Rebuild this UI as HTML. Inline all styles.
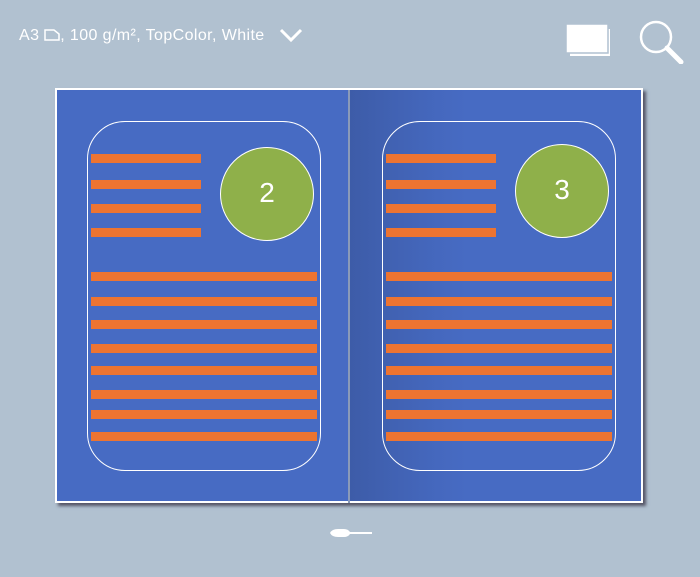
<!DOCTYPE html><html><head><style>
body{margin:0;width:700px;height:577px;background:#b1c1d0;overflow:hidden;position:relative;font-family:"Liberation Sans",sans-serif}
.a{position:absolute}
.bar{position:absolute;height:9px;background:#ed7431}
</style></head><body>
<div class="a" style="left:19px;top:27px;color:#fff;font-size:16px;letter-spacing:0.4px;white-space:nowrap">A3 <svg width="16" height="13" style="vertical-align:-1px"><path d="M1 2h9l5 4v6H1z" fill="none" stroke="#fff" stroke-width="1.5"/></svg>, 100 g/m², TopColor, White</div>
<svg class="a" style="left:278px;top:27px" width="26" height="16"><path d="M3 3l10 10 10-10" fill="none" stroke="#fff" stroke-width="3"/></svg>
<svg class="a" style="left:564px;top:20px" width="50" height="38"><rect x="6" y="9" width="40" height="27" fill="#fff"/><rect x="2" y="4" width="42" height="29" fill="#fff" stroke="#b1c1d0" stroke-width="1.5"/></svg>
<svg class="a" style="left:636px;top:16px" width="52" height="48"><circle cx="20" cy="21" r="15" fill="none" stroke="#fff" stroke-width="2.5"/><path d="M31 32l14 14" stroke="#fff" stroke-width="5" stroke-linecap="round"/></svg>
<div class="a" style="left:55px;top:88px;width:588px;height:415px;background:#fff;box-shadow:3px 3px 3px #556"></div>
<div class="a" style="left:57px;top:90px;width:291px;height:411px;background:#476bc3"></div>
<div class="a" style="left:350px;top:90px;width:291px;height:411px;background:linear-gradient(90deg,#3d5ca8,#4568be 30%,#476bc3 40%)"></div>
<div class="a" style="left:348px;top:90px;width:2px;height:413px;background:#8a9ab8"></div>
<div class="a" style="left:87px;top:121px;width:232px;height:348px;border:1.5px solid #fff;border-radius:38px"></div>
<div class="a" style="left:382px;top:121px;width:232px;height:348px;border:1.5px solid #fff;border-radius:38px"></div>
<div class="a" style="left:220px;top:147px;width:92px;height:92px;border-radius:50%;background:#8fb04a;border:1px solid #fff;color:#fff;font-size:28px;text-align:center;line-height:90px">2</div>
<div class="a" style="left:515px;top:144px;width:92px;height:92px;border-radius:50%;background:#8fb04a;border:1px solid #fff;color:#fff;font-size:28px;text-align:center;line-height:90px">3</div>
<div id="b"></div>
<svg class="a" style="left:326px;top:526px" width="50" height="14"><path d="M4 7 Q6 3 12 3 H18 Q22 3 24 6 H46 V8 H24 Q22 11 18 11 H12 Q6 11 4 7z" fill="#fff"/></svg>
<script>
var s=[154,180,204,228],l=[272,297,320,344,366,390,410,432],h='';
[[91,0],[386,0]].forEach(function(p){var x=p[0];
s.forEach(function(y){h+='<div class="bar" style="left:'+x+'px;top:'+y+'px;width:110px"></div>'});
l.forEach(function(y){h+='<div class="bar" style="left:'+x+'px;top:'+y+'px;width:226px"></div>'});});
document.getElementById('b').innerHTML=h;
</script>
</body></html>
